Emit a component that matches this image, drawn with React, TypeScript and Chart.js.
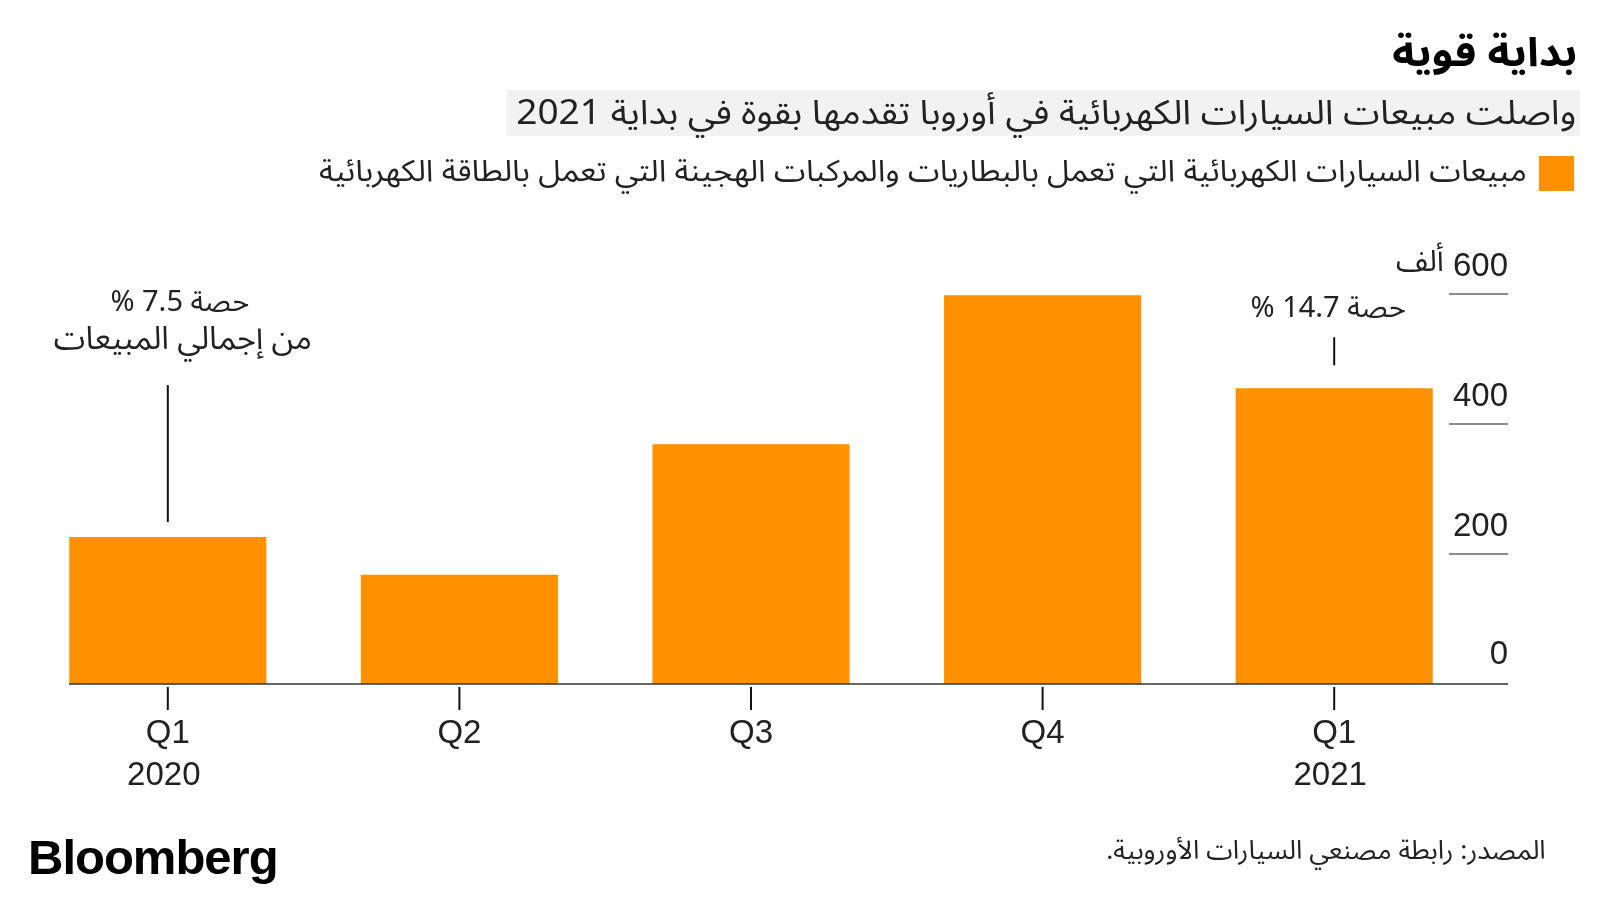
import React, { useEffect, useRef } from "react";
import { Chart, registerables } from "chart.js";

Chart.register(...registerables);

const quarters = ["Q1", "Q2", "Q3", "Q4", "Q1"];
const years = ["2020", "", "", "", "2021"];
const salesThousands = [226, 168, 369, 598, 455];
const yTickValues = [0, 200, 400, 600];
const yTickLabels = ["0", "200", "400", "600"];
const yUnit = "ألف";
const annotationIndex = [0, 4];
const annotationTexts = [
  ["حصة 7.5 %", "من إجمالي المبيعات"],
  ["حصة 14.7 %"],
];

const TITLE = "بداية قوية";
const SUBTITLE = "واصلت مبيعات السيارات الكهربائية في أوروبا تقدمها بقوة في بداية 2021";
const LEGEND = "مبيعات السيارات الكهربائية التي تعمل بالبطاريات والمركبات الهجينة التي تعمل بالطاقة الكهربائية";
const SOURCE = "المصدر: رابطة مصنعي السيارات الأوروبية.";

const ORANGE = "#ff9100";
const AR_FONT = '"Noto Sans Arabic", "DejaVu Sans", sans-serif';
const LAT_FONT = '"Liberation Sans", Arial, sans-serif';

const overlayPlugin = {
  id: "overlay",
  afterDraw(chart: any) {
    const ctx = chart.ctx;
    const x = chart.scales.x;
    const y = chart.scales.y;
    const y0 = y.getPixelForValue(0);
    ctx.save();
    // x axis line
    ctx.strokeStyle = "#333";
    ctx.lineWidth = 1.5;
    ctx.beginPath();
    ctx.moveTo(69, y0);
    ctx.lineTo(1508, y0);
    ctx.stroke();
    // y gridlines and labels
    yTickValues.forEach((v, i) => {
      const py = y.getPixelForValue(v);
      if (v !== 0) {
        ctx.strokeStyle = "#666";
        ctx.lineWidth = 1.5;
        ctx.beginPath();
        ctx.moveTo(1449, py);
        ctx.lineTo(1508, py);
        ctx.stroke();
      }
      ctx.fillStyle = "#222";
      ctx.font = `33px ${LAT_FONT}`;
      ctx.textAlign = "right";
      ctx.textBaseline = "middle";
      const dy = v === 0 ? 29 : 27;
      ctx.fillText(yTickLabels[i], 1508, py - dy);
      if (i === yTickValues.length - 1) {
        const w = ctx.measureText(yTickLabels[i] + " ").width;
        ctx.font = `30px ${AR_FONT}`;
        ctx.direction = "rtl";
        ctx.fillText(yUnit, 1508 - w, py - dy - 1);
        ctx.direction = "ltr";
      }
    });
    // x ticks and labels
    quarters.forEach((q, i) => {
      const px = x.getPixelForValue(i);
      ctx.strokeStyle = "#111";
      ctx.lineWidth = 2;
      ctx.beginPath();
      ctx.moveTo(px, y0 + 3);
      ctx.lineTo(px, y0 + 26);
      ctx.stroke();
      ctx.fillStyle = "#222";
      ctx.font = `33px ${LAT_FONT}`;
      ctx.textAlign = "center";
      ctx.textBaseline = "middle";
      ctx.fillText(q, px, y0 + 50);
      if (years[i]) ctx.fillText(years[i], px - 4, y0 + 92);
    });
    // annotations
    const meta = chart.getDatasetMeta(0);
    annotationIndex.forEach((idx, k) => {
      const bar = meta.data[idx];
      const px = bar.x;
      const top = bar.y;
      ctx.strokeStyle = "#111";
      ctx.lineWidth = 2;
      ctx.fillStyle = "#222";
      ctx.textAlign = "center";
      ctx.textBaseline = "middle";
      ctx.direction = "rtl";
      const lines = annotationTexts[k];
      if (lines.length === 2) {
        ctx.beginPath();
        ctx.moveTo(px, top - 15);
        ctx.lineTo(px, top - 152);
        ctx.stroke();
        ctx.font = `29px ${AR_FONT}`;
        ctx.fillText(lines[0], px + 12, top - 230);
        ctx.font = `32px ${AR_FONT}`;
        ctx.fillText(lines[1], px + 15, top - 193);
      } else {
        ctx.beginPath();
        ctx.moveTo(px, top - 23);
        ctx.lineTo(px, top - 51);
        ctx.stroke();
        ctx.font = `29px ${AR_FONT}`;
        ctx.fillText(lines[0], px - 6, top - 76);
      }
    });
    ctx.restore();
  },
};

export default function App() {
  const ref = useRef<HTMLCanvasElement | null>(null);
  useEffect(() => {
    if (!ref.current) return;
    const chart = new Chart(ref.current, {
      type: "bar",
      data: {
        labels: quarters.map((q, i) => (years[i] ? `${q} ${years[i]}` : q)),
        datasets: [
          {
            data: salesThousands,
            backgroundColor: ORANGE,
            borderWidth: 0,
            categoryPercentage: 1,
            barPercentage: 0.676,
          },
        ],
      },
      options: {
        animation: false,
        responsive: false,
        devicePixelRatio: 1,
        layout: { padding: { left: 22, right: 120, top: 294, bottom: 216 } },
        plugins: { legend: { display: false }, tooltip: { enabled: false } },
        scales: {
          x: { display: false },
          y: { display: false, min: 0, max: 600 },
        },
      },
      plugins: [overlayPlugin],
    });
    return () => chart.destroy();
  }, []);

  const abs = (s: React.CSSProperties): React.CSSProperties => ({ position: "absolute", margin: 0, ...s });

  return (
    <div style={{ position: "absolute", left: 0, top: 0, width: 1600, height: 900, background: "#fff", overflow: "hidden" }}>
      <canvas ref={ref} width={1600} height={900} style={{ position: "absolute", left: 0, top: 0, width: 1600, height: 900 }} />
      <div dir="rtl" style={abs({ right: 23, top: 28, fontFamily: AR_FONT, fontWeight: 700, fontSize: 40, lineHeight: "52px", color: "#000", whiteSpace: "nowrap", transform: "scaleX(1.08)", transformOrigin: "right center" })}>
        {TITLE}
      </div>
      <div dir="rtl" style={abs({ right: 20, top: 90, height: 46, padding: "0 3px 0 9px", background: "#f2f2f2", fontFamily: AR_FONT, fontSize: 34, lineHeight: "46px", color: "#222", whiteSpace: "nowrap", transform: "scaleX(1.09)", transformOrigin: "right center" })}>
        {SUBTITLE}
      </div>
      <div style={abs({ left: 1539, top: 156, width: 35, height: 35, background: ORANGE })} />
      <div dir="rtl" style={abs({ right: 73, top: 151, fontFamily: AR_FONT, fontSize: 30, lineHeight: "42px", color: "#222", whiteSpace: "nowrap", transform: "scaleX(1.068)", transformOrigin: "right center" })}>
        {LEGEND}
      </div>
      <div style={abs({ left: 28, top: 829, fontFamily: LAT_FONT, fontWeight: 700, fontSize: 49, lineHeight: "56px", letterSpacing: "-1px", color: "#000" })}>
        Bloomberg
      </div>
      <div dir="rtl" style={abs({ right: 54, top: 834, fontFamily: AR_FONT, fontSize: 26, lineHeight: "34px", color: "#222", whiteSpace: "nowrap", transform: "scaleX(1.03)", transformOrigin: "right center" })}>
        {SOURCE}
      </div>
    </div>
  );
}
